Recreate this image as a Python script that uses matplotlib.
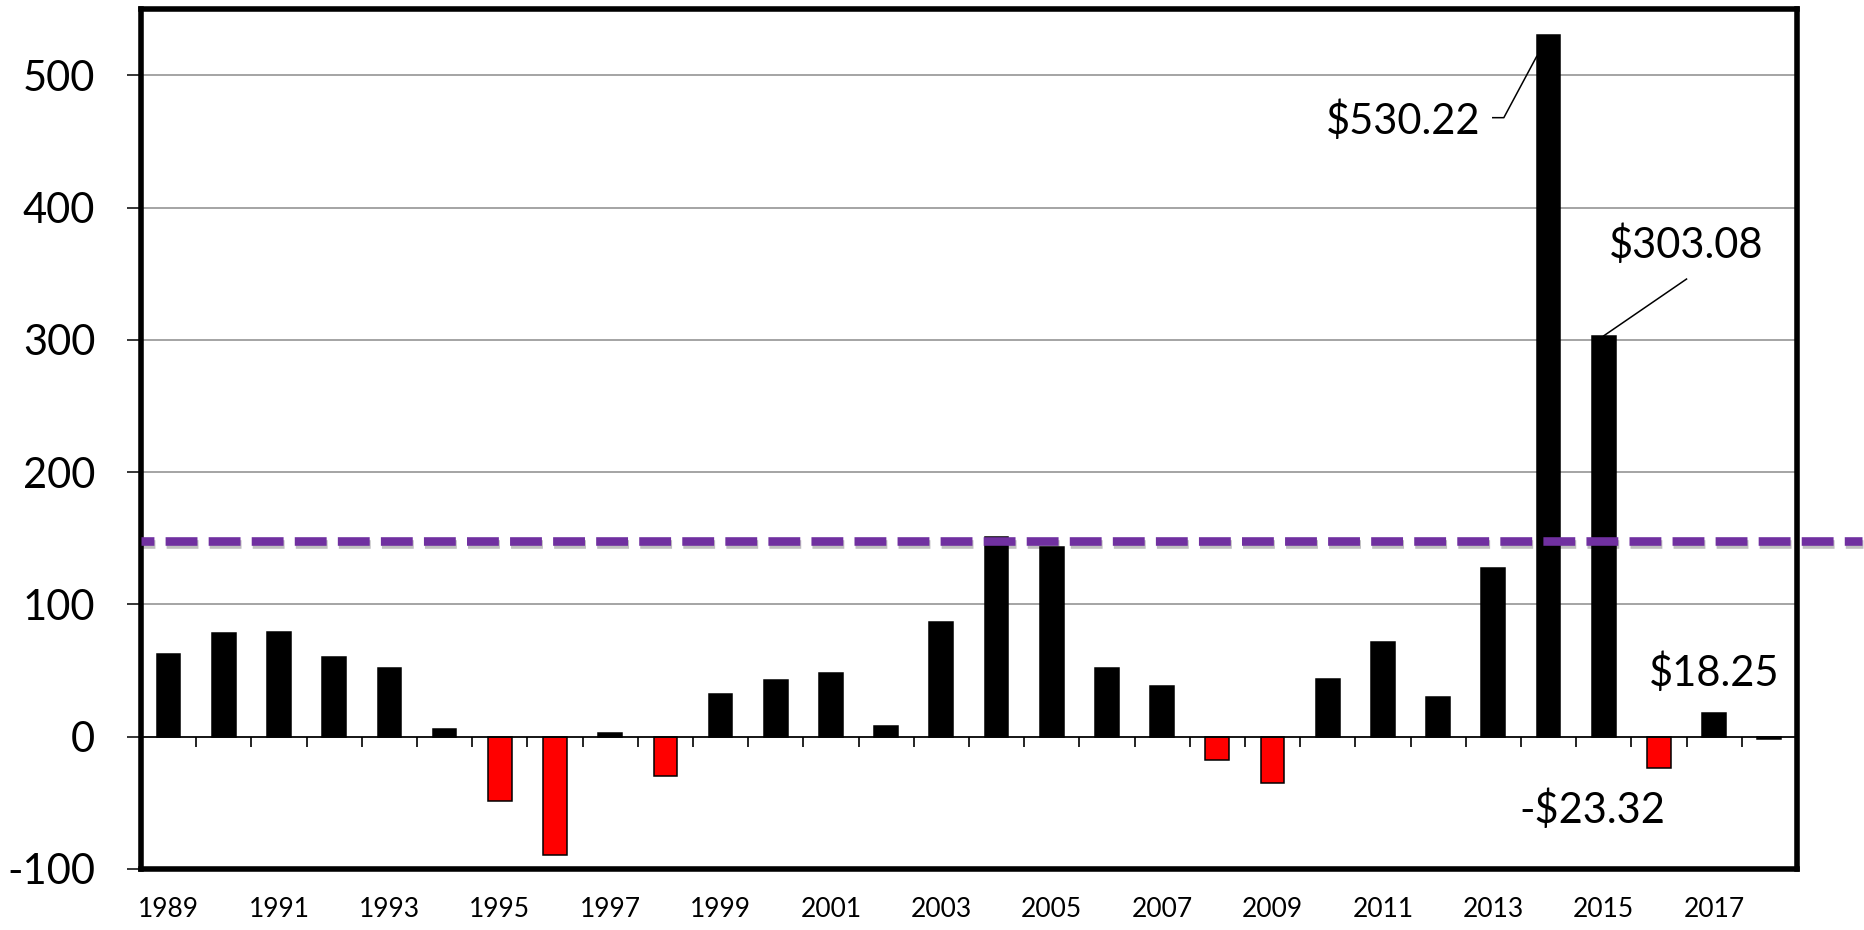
import matplotlib
matplotlib.use("Agg")
import matplotlib.pyplot as plt
import matplotlib.patheffects as pe
import numpy as np

plt.rcParams['font.family'] = ['Lato', 'DejaVu Sans']
plt.rcParams['axes.unicode_minus'] = False

# ---- data
years = list(range(1989, 2019))
values = [62.2, 78.3, 78.8, 60.0, 52.1, 6.0, -48.4, -89.8, 3.0, -29.8,
          32.5, 42.6, 47.9, 8.1, 86.6, 150.9, 143.1, 51.9, 38.0, -17.8,
          -34.7, 43.8, 71.8, 30.2, 127.2, 530.22, 303.08, -23.32, 18.25, -2.0]
threshold = 148
callouts = ["$530.22", "$303.08", "-$23.32", "$18.25"]

# ---- figure
fig = plt.figure(figsize=(18.65, 9.3), dpi=100)
ax = fig.add_axes([0.0756, 0.0656, 0.8879, 0.9245])

x = np.arange(len(years))
w = 0.43
# tiny negative bar just shows as a black sliver in the original
cols = ['black' if v > -3 else '#FF0000' for v in values]
ax.bar(x, values, width=w, color=cols, edgecolor='black', linewidth=1.1, zorder=3)

ax.set_xlim(-0.5, len(years) - 0.5)
ax.set_ylim(-100, 550)

# grid + zero axis line with category ticks
ax.set_yticks([-100, 0, 100, 200, 300, 400, 500])
ax.yaxis.grid(True, color='#8c8c8c', linewidth=1.1, zorder=0)
ax.set_axisbelow(True)
ax.axhline(0, color='black', linewidth=1.2, zorder=4)
bounds = np.arange(-0.5, len(years) - 0.5, 1.0)[1:]
ax.vlines(bounds, -7.5, 0, color='black', linewidth=1.2, zorder=4)

# x labels every other year
ax.set_xticks(x[::2])
ax.set_xticklabels([str(y) for y in years[::2]], fontsize=19)
ax.tick_params(axis='x', length=0, pad=20)
ax.tick_params(axis='y', labelsize=30, length=10, width=1.1, pad=23, direction='out')

for s in ax.spines.values():
    s.set_linewidth(4)
    s.set_color('black')

# dashed threshold line, runs past the right frame
ax.axhline(threshold, xmin=0, xmax=1.039, color='#7030A0', linewidth=6.2,
           linestyle=(2.2, (3.7, 1.3)), clip_on=False, zorder=5,
           path_effects=[pe.SimpleLineShadow(offset=(1, -2), alpha=0.25), pe.Normal()])

# callouts
i14 = years.index(2014)
i15 = years.index(2015)
i17 = years.index(2017)

ax.text(22.36, 466, callouts[0], fontsize=30, ha='center', va='center', zorder=6)
ax.plot([23.99, 24.19, i14 - w / 2], [468, 468, values[i14] * 0.97],
        color='black', linewidth=1.1, zorder=6)

ax.text(27.5, 372, callouts[1], fontsize=30, ha='center', va='center', zorder=6)
ax.plot([27.5, i15], [346, values[i15]], color='black', linewidth=1.1, zorder=6)

ax.text(25.8, -55.5, callouts[2], fontsize=30, ha='center', va='center', zorder=6)
ax.text(i17, 48.6, callouts[3], fontsize=30, ha='center', va='center', zorder=6)

fig.savefig("out.png", dpi=100)
